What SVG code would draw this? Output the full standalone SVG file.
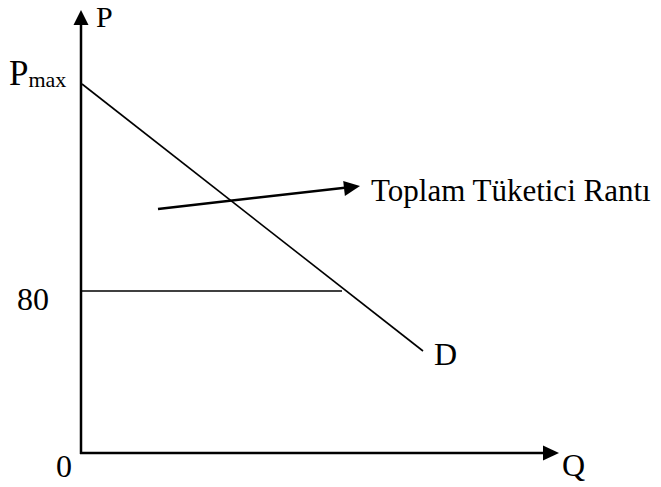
<svg xmlns="http://www.w3.org/2000/svg" width="661" height="487" viewBox="0 0 661 487">
<style>
.t{font-family:"Liberation Serif","Times New Roman",serif;fill:#000}
.ax{stroke:#000;stroke-width:2.5;fill:none}
.ln{stroke:#000;stroke-width:1.6;fill:none}
</style>
<rect width="661" height="487" fill="#fff"/>
<g id="connectors">
<line class="ax" x1="81" y1="454" x2="81" y2="22"/>
<polygon points="81,10 73.5,25 88.5,25" fill="#000"/>
<line class="ax" x1="80" y1="453" x2="546" y2="453"/>
<polygon points="559,453 543,445.5 543,460.5" fill="#000"/>
<line class="ln" x1="82" y1="84" x2="423" y2="351"/>
<line class="ln" x1="81" y1="291" x2="342" y2="291"/>
<line class="ax" x1="158" y1="209" x2="347" y2="187.5"/>
<polygon points="360,186 343.2,181 344.9,196" fill="#000"/>
</g>
<g id="labels">
<text class="t" x="96" y="27" font-size="30">P</text>
<text class="t" x="9" y="85" font-size="35">P<tspan font-size="22" dy="2">max</tspan></text>
<text class="t" x="371" y="201" font-size="31">Toplam Tüketici Rantı</text>
<text class="t" x="17" y="310" font-size="32">80</text>
<text class="t" x="434" y="365" font-size="32">D</text>
<text class="t" x="56" y="477" font-size="32">0</text>
<text class="t" x="562" y="476" font-size="32">Q</text>
</g>
</svg>
